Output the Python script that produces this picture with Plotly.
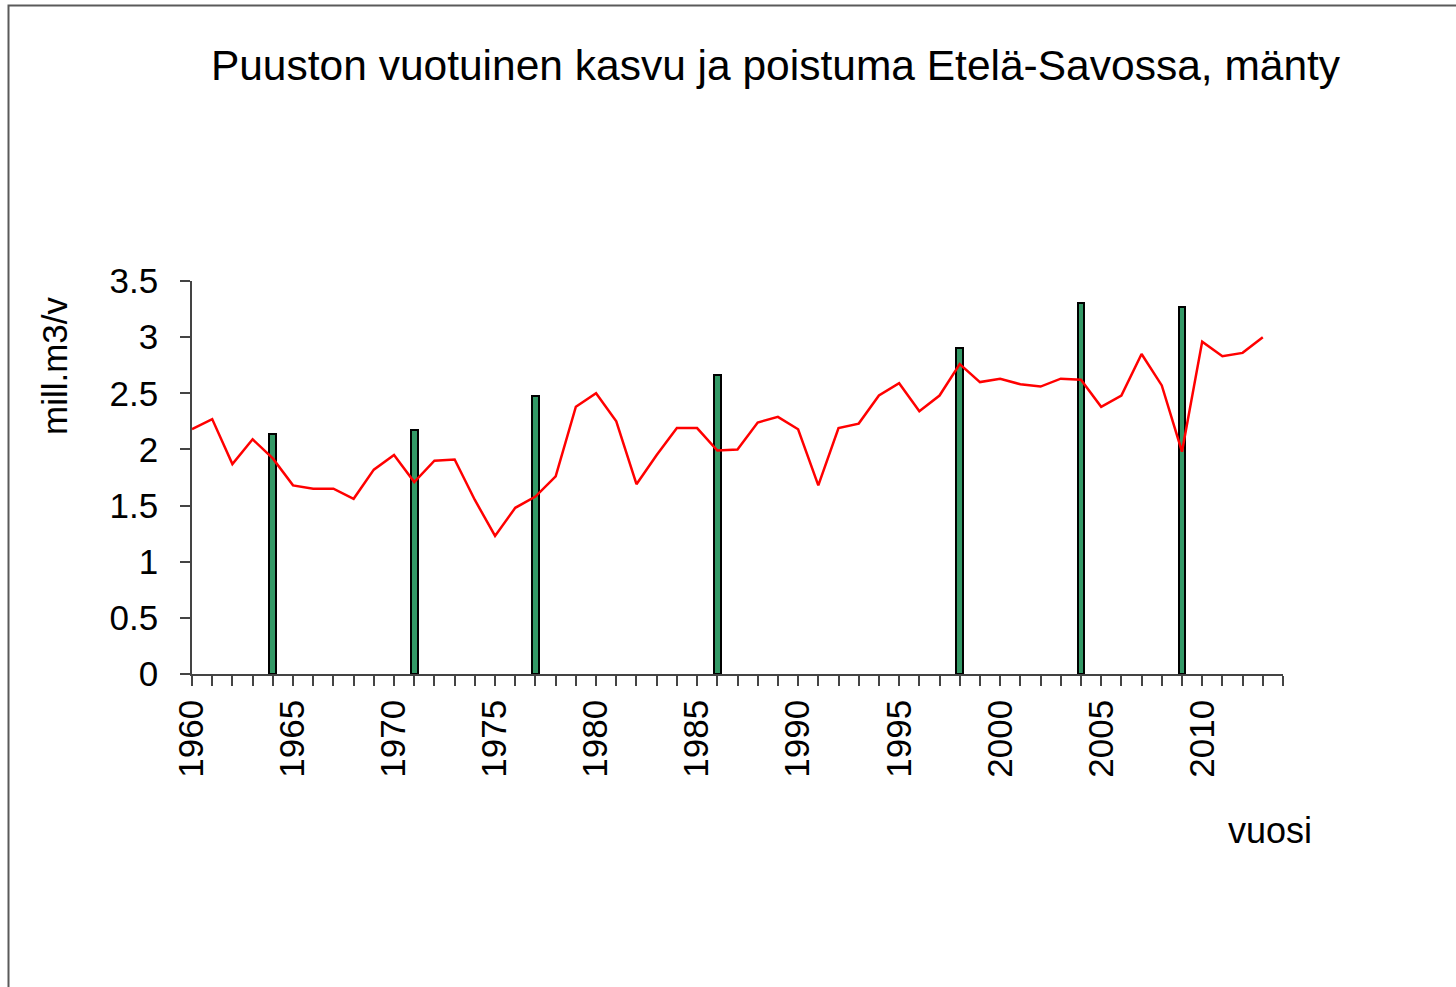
import plotly.graph_objects as go

# Annual drain (line), 1960-2013
years = list(range(1960, 2014))
drain = [2.18, 2.27, 1.87, 2.09, 1.92, 1.68, 1.65, 1.65, 1.56, 1.82,
         1.95, 1.71, 1.90, 1.91, 1.55, 1.23, 1.48, 1.58, 1.76, 2.38,
         2.50, 2.25, 1.69, 1.95, 2.19, 2.19, 1.99, 2.00, 2.24, 2.29,
         2.18, 1.68, 2.19, 2.23, 2.48, 2.59, 2.34, 2.48, 2.76, 2.60,
         2.63, 2.58, 2.56, 2.63, 2.62, 2.38, 2.48, 2.85, 2.57, 1.98,
         2.96, 2.83, 2.86, 3.00]

# Annual increment (bars) from inventories
inv_years = [1964, 1971, 1977, 1986, 1998, 2004, 2009]
increment = [2.14, 2.17, 2.48, 2.66, 2.90, 3.30, 3.27]

title_text = "Puuston vuotuinen kasvu ja poistuma Etelä-Savossa, mänty"
y_title = "mill.m3/v"
x_title = "vuosi"

FONT = "Arial, 'Liberation Sans', sans-serif"
W, H = 1456, 987
L, R, T, B = 192, 173, 281, 313
PW, PH = W - L - R, H - T - B

def px(xp):
    return (xp - L) / PW

def py(yp):
    return (H - B - yp) / PH

fig = go.Figure()
fig.add_trace(go.Bar(
    x=inv_years, y=increment, width=[0.34] * len(inv_years),
    marker=dict(color="#339966", line=dict(color="#000000", width=2)),
    hoverinfo="skip", showlegend=False,
))
fig.add_trace(go.Scatter(
    x=years, y=drain, mode="lines",
    line=dict(color="#ff0000", width=2.5),
    hoverinfo="skip", showlegend=False,
))

axis_color = "#444444"
fig.update_layout(
    width=W, height=H, autosize=False,
    margin=dict(l=L, r=R, t=T, b=B, pad=0),
    paper_bgcolor="white", plot_bgcolor="white",
    showlegend=False, hovermode=False,
    font=dict(family=FONT, color="black"),
    title=dict(text=title_text, xref="container", yref="container",
               x=775.5 / W, y=1 - 65 / H, xanchor="center", yanchor="middle",
               font=dict(size=42.5, family=FONT, color="black")),
    xaxis=dict(range=[1960, 2014], tick0=1960, dtick=5, ticks="outside",
               ticklen=10, tickwidth=1.5, tickcolor=axis_color,
               tickangle=-90, tickfont=dict(size=35, family=FONT, color="black"),
               showline=True, linecolor=axis_color, linewidth=1.5,
               showgrid=False, zeroline=False, automargin=False,
               ticklabelstandoff=0,
               minor=dict(dtick=1, tick0=1960, ticks="outside", ticklen=10,
                          tickwidth=1.5, tickcolor=axis_color, showgrid=False)),
    yaxis=dict(range=[0, 3.5], dtick=0.5, tick0=0, ticks="outside",
               ticklen=10, tickwidth=1.5, tickcolor=axis_color,
               tickfont=dict(size=35, family=FONT, color="black"),
               showline=True, linecolor=axis_color, linewidth=1.5,
               showgrid=False, zeroline=False, automargin=False,
               ticklabelstandoff=15),
    bargap=0,
)

fig.add_annotation(text=y_title, xref="paper", yref="paper",
                   x=px(54), y=py(366), textangle=-90, showarrow=False,
                   xanchor="center", yanchor="middle",
                   font=dict(size=35, family=FONT, color="black"))
fig.add_annotation(text=x_title, xref="paper", yref="paper",
                   x=px(1270), y=py(830), showarrow=False,
                   xanchor="center", yanchor="middle",
                   font=dict(size=36, family=FONT, color="black"))

# outer frame (left and top edges)
fig.add_shape(type="path", xref="paper", yref="paper",
              path=f"M {px(8.5)},{py(H + 20)} L {px(8.5)},{py(5.5)} L {px(W + 20)},{py(5.5)}",
              line=dict(color="#5a5a5a", width=2))

fig.write_html("out.html",
               config={"displayModeBar": False},
               post_script="document.body.style.margin='0px';document.body.style.overflow='hidden';")
